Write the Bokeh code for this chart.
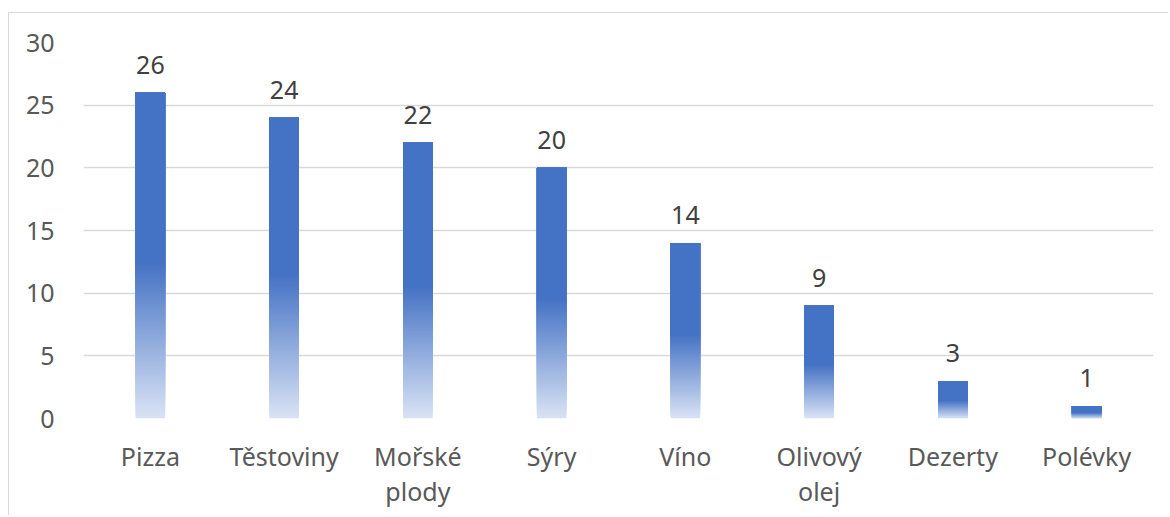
from bokeh.plotting import figure
from bokeh.models import ColumnDataSource, FactorRange
from bokeh.core.properties import value
from bokeh.embed import file_html
from bokeh.resources import INLINE

categories = ["Pizza", "Těstoviny", "Mořské\nplody", "Sýry", "Víno", "Olivový\nolej", "Dezerty", "Polévky"]
counts = [26, 24, 22, 20, 14, 9, 3, 1]
y_ticks = [0, 5, 10, 15, 20, 25, 30]

FONT = "Noto Sans"
FS = "25px"
BAR_W = 0.22
SOLID_FRAC = 0.48
N_STEPS = 60
top_rgb = (0x44, 0x72, 0xC4)
bot_rgb = (0xDA, 0xE3, 0xF5)

p = figure(x_range=FactorRange(*categories), y_range=(0, 30),
           width=1160, height=503, output_backend="svg", toolbar_location=None,
           min_border_left=74, min_border_right=16, min_border_top=29, min_border_bottom=98)
p.styles = {"border-left": "1px solid #D9D9D9", "border-top": "1px solid #D9D9D9",
            "margin-top": "12px", "margin-left": "8px"}
p.outline_line_color = None
p.background_fill_color = "white"

# gradient part of each bar: overlapping slices, light at bottom -> solid colour
xs, bots, tops, cols = [], [], [], []
for c, v in zip(categories, counts):
    h = v * SOLID_FRAC
    for i in range(N_STEPS):
        t = (i + 0.5) / N_STEPS
        rgb = tuple(int(round(b + (a - b) * t)) for a, b in zip(top_rgb, bot_rgb))
        xs.append(c)
        bots.append(h * i / N_STEPS)
        tops.append(v)
        cols.append("#%02x%02x%02x" % rgb)
grad = ColumnDataSource(dict(x=xs, bottom=bots, top=tops, color=cols))
p.vbar(x="x", bottom="bottom", top="top", width=BAR_W, fill_color="color", line_color=None, source=grad)

src = ColumnDataSource(dict(x=categories, top=counts, bottom=[v * SOLID_FRAC for v in counts],
                            label=[str(v) for v in counts]))
p.vbar(x="x", bottom="bottom", top="top", width=BAR_W, fill_color="#4472C4", line_color=None, source=src)

p.text(x="x", y="top", text="label", source=src, text_align="center", text_baseline="alphabetic",
       y_offset=-28, text_font=value(FONT), text_font_size=FS, text_color="#404040")

# axes
p.yaxis.ticker = y_ticks
p.yaxis.axis_line_color = None
p.yaxis.major_tick_line_color = None
p.yaxis.minor_tick_line_color = None
p.yaxis.major_label_standoff = 23
p.yaxis.major_label_text_font = FONT
p.yaxis.major_label_text_font_size = FS
p.yaxis.major_label_text_color = "#595959"

p.xaxis.axis_line_color = None
p.xaxis.major_tick_line_color = None
p.xaxis.minor_tick_line_color = None
p.xaxis.major_label_standoff = 14
p.xaxis.major_label_text_font = FONT
p.xaxis.major_label_text_font_size = FS
p.xaxis.major_label_text_color = "#595959"
p.xaxis.major_label_text_line_height = 1.03

p.xgrid.grid_line_color = None
p.ygrid.grid_line_color = "#D9D9D9"
p.ygrid.grid_line_width = 1.5

open("out.html", "w").write(file_html(p, INLINE))
